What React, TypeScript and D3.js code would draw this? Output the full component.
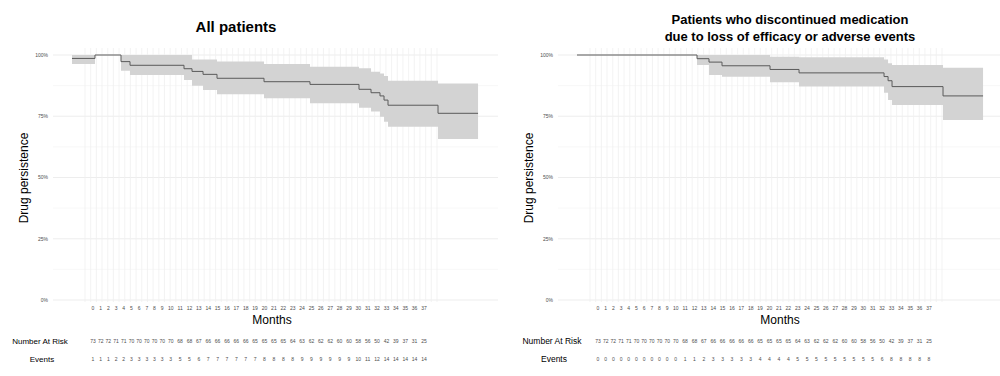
import React from "react";
import * as d3 from "d3";

// ---- Data ----
const tickLabels = ["0","1","2","3","4","5","6","7","8","9","10","11","12","13","14","15","16","17","18","19","20","21","22","23","24","25","26","27","28","29","30","31","32","33","34","35","36","37"];
const yTickValues = [0, 0.25, 0.5, 0.75, 1];
const yTickLabels = ["0%", "25%", "50%", "75%", "100%"];

// All patients
const allTimes = [-2.29, 1.76, 6.34, 7.93, 17.44, 18.85, 20.79, 23.25, 31.53, 39.63, 48.26, 50.38, 51.96, 52.67, 53.37, 62.18, 69.23];
const allSurv = [0.986, 1.0, 0.973, 0.958, 0.944, 0.933, 0.921, 0.905, 0.891, 0.880, 0.860, 0.846, 0.833, 0.816, 0.795, 0.762];
const allLower = [0.963, 1.0, 0.936, 0.918, 0.898, 0.875, 0.857, 0.840, 0.823, 0.803, 0.785, 0.769, 0.748, 0.728, 0.707, 0.657];
const allUpper = [1.0, 1.0, 1.0, 1.0, 1.0, 0.982, 0.982, 0.973, 0.963, 0.952, 0.946, 0.932, 0.925, 0.914, 0.895, 0.884];
const allAtRisk = ["73","72","72","71","71","70","70","70","70","70","70","68","68","67","66","66","66","66","66","65","65","65","65","64","63","62","62","62","60","60","58","56","50","42","39","37","31","25"];
const allEvents = ["1","1","1","2","2","3","3","3","3","3","3","5","5","6","7","7","7","7","7","7","8","8","8","8","9","9","9","9","9","9","10","11","12","14","14","14","14","14"];

// Discontinued due to loss of efficacy or adverse events
const discTimes = [-2.29, 18.85, 20.96, 23.25, 31.71, 36.82, 51.79, 52.5, 53.2, 62.18, 69.23];
const discSurv = [1.0, 0.985, 0.971, 0.956, 0.941, 0.927, 0.912, 0.895, 0.871, 0.833];
const discLower = [1.0, 0.959, 0.918, 0.911, 0.889, 0.871, 0.846, 0.816, 0.796, 0.735];
const discUpper = [1.0, 1.0, 1.0, 1.0, 0.993, 0.991, 0.982, 0.966, 0.959, 0.948];
const discAtRisk = allAtRisk;
const discEvents = ["0","0","0","0","0","0","0","0","0","0","0","1","1","2","3","3","3","3","3","4","4","4","4","5","5","5","5","5","5","5","5","5","6","8","8","8","8","8"];

const FONT = "'Liberation Sans', Arial, Helvetica, sans-serif";

type PanelProps = {
  dx: number;
  title: string[];
  titleY: number[];
  titleX: number;
  titleSize: number;
  times: number[];
  surv: number[];
  lower: number[];
  upper: number[];
  atRisk: string[];
  events: string[];
  monthsX: number;
  rowLabelX: number;
  rowLabelSize: number;
};

function Panel(p: PanelProps) {
  const { dx } = p;
  const x = d3.scaleLinear().domain([0, 62]).range([85 + dx, 437 + dx]);
  const y = d3.scaleLinear().domain([0, 1]).range([300, 55]);

  // column positions for tick labels / risk table (text-like spacing)
  const gap = 3.53;
  const centers: number[] = [];
  tickLabels.forEach((l, i) => {
    if (i === 0) centers.push(0);
    else centers.push(centers[i - 1] + (tickLabels[i - 1].length + l.length) / 2 + gap);
  });
  const col = d3.scaleLinear().domain([0, centers[centers.length - 1]]).range([93 + dx, 424 + dx]);

  const n = p.surv.length;
  const linePts: [number, number][] = p.surv.map((s, i) => [p.times[i], s]);
  linePts.push([p.times[n], p.surv[n - 1]]);
  const bandPts = p.surv.map((_, i) => ({ t: p.times[i], lo: p.lower[i], hi: p.upper[i] }));
  bandPts.push({ t: p.times[n], lo: p.lower[n - 1], hi: p.upper[n - 1] });

  const line = d3.line<[number, number]>().x(d => x(d[0])).y(d => y(d[1])).curve(d3.curveStepAfter);
  const area = d3.area<{ t: number; lo: number; hi: number }>()
    .x(d => x(d.t)).y0(d => y(d.lo)).y1(d => y(d.hi)).curve(d3.curveStepAfter);

  const vGrid = d3.range(0, 63);
  const hMinor = [0.125, 0.375, 0.625, 0.875];
  const hLeft = 53 + dx;
  const hRight = 498 + dx;

  return (
    <g>
      {/* grid */}
      {hMinor.map(v => (
        <line key={"hm" + v} x1={hLeft} x2={hRight} y1={y(v)} y2={y(v)} stroke="#f4f4f4" strokeWidth={0.6} />
      ))}
      {yTickValues.map(v => (
        <line key={"hM" + v} x1={hLeft} x2={hRight} y1={y(v)} y2={y(v)} stroke="#ebebeb" strokeWidth={0.9} />
      ))}
      {vGrid.map(v => (
        <line key={"v" + v} x1={x(v)} x2={x(v)} y1={48} y2={302} stroke="#f0f0f0" strokeWidth={0.8} />
      ))}
      {/* band + line */}
      <path d={area(bandPts) || ""} fill="#d3d3d3" />
      <path d={line(linePts) || ""} fill="none" stroke="#5a5a5a" strokeWidth={1} />
      {/* y ticks */}
      {yTickValues.map((v, i) => (
        <text key={"yt" + v} x={48 + dx} y={y(v)} dy="0.35em" textAnchor="end" fontSize={5} fill="#4d4d4d" fontFamily={FONT}>
          {yTickLabels[i]}
        </text>
      ))}
      {/* y title */}
      <text transform={`translate(${28 + dx},178) rotate(-90)`} textAnchor="middle" fontSize={12} fill="#000" fontFamily={FONT}>
        Drug persistence
      </text>
      {/* title */}
      {p.title.map((t, i) => (
        <text key={"t" + i} x={p.titleX} y={p.titleY[i]} textAnchor="middle" fontSize={p.titleSize} fontWeight="bold" fill="#000" fontFamily={FONT}>
          {t}
        </text>
      ))}
      {/* x tick labels */}
      {tickLabels.map((l, i) => (
        <text key={"xt" + i} x={col(centers[i])} y={308} dy="0.35em" textAnchor="middle" fontSize={5} fill="#4d4d4d" fontFamily={FONT}>
          {l}
        </text>
      ))}
      <text x={p.monthsX} y={320} dy="0.35em" textAnchor="middle" fontSize={12} fill="#000" fontFamily={FONT}>Months</text>
      {/* risk table */}
      <text x={p.rowLabelX} y={341} dy="0.35em" textAnchor="middle" fontSize={p.rowLabelSize} fill="#000" fontFamily={FONT}>Number At Risk</text>
      <text x={p.rowLabelX + 2} y={359} dy="0.35em" textAnchor="middle" fontSize={p.rowLabelSize} fill="#000" fontFamily={FONT}>Events</text>
      {p.atRisk.map((l, i) => (
        <text key={"ar" + i} x={col(centers[i])} y={341} dy="0.35em" textAnchor="middle" fontSize={5} fill="#4d4d4d" fontFamily={FONT}>
          {l}
        </text>
      ))}
      {p.events.map((l, i) => (
        <text key={"ev" + i} x={col(centers[i])} y={359} dy="0.35em" textAnchor="middle" fontSize={5} fill="#4d4d4d" fontFamily={FONT}>
          {l}
        </text>
      ))}
    </g>
  );
}

export default function App() {
  return (
    <svg width={1000} height={376} style={{ position: "absolute", left: 0, top: 0, background: "#fff" }}>
      <rect x={0} y={0} width={1000} height={376} fill="#fff" />
      <Panel
        dx={0}
        title={["All patients"]}
        titleY={[32]}
        titleX={236}
        titleSize={15}
        times={allTimes}
        surv={allSurv}
        lower={allLower}
        upper={allUpper}
        atRisk={allAtRisk}
        events={allEvents}
        monthsX={272}
        rowLabelX={40}
        rowLabelSize={8}
      />
      <Panel
        dx={505}
        title={["Patients who discontinued medication", "due to loss of efficacy or adverse events"]}
        titleY={[24, 41]}
        titleX={790}
        titleSize={13}
        times={discTimes}
        surv={discSurv}
        lower={discLower}
        upper={discUpper}
        atRisk={discAtRisk}
        events={discEvents}
        monthsX={780}
        rowLabelX={552}
        rowLabelSize={8.5}
      />
    </svg>
  );
}
